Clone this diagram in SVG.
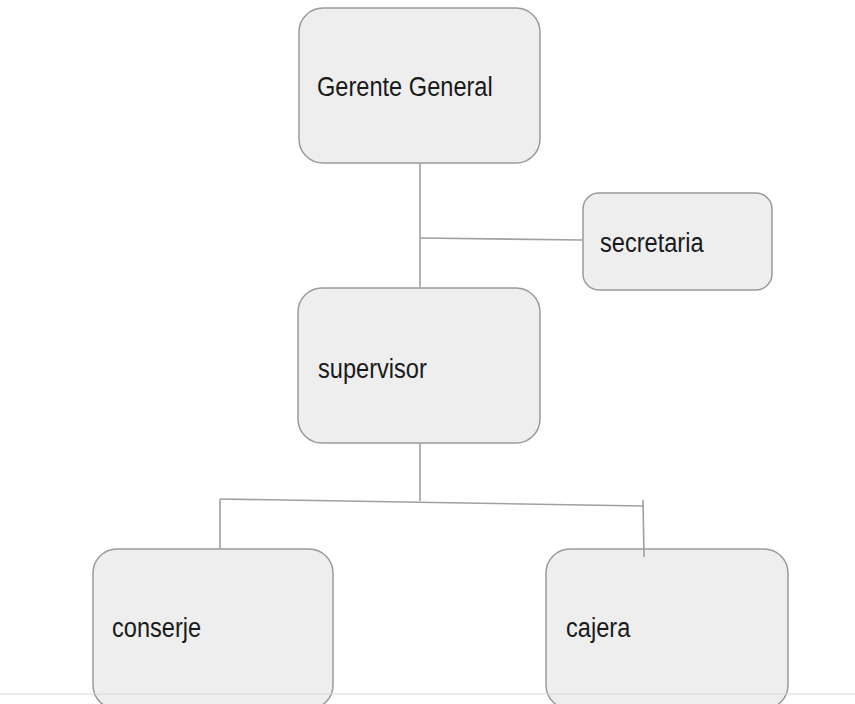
<svg xmlns="http://www.w3.org/2000/svg" width="855" height="704" viewBox="0 0 855 704">
<style>
.box{fill:#eeeeee;stroke:#9a9a9a;stroke-width:1.5}
.lbl{font-family:"Liberation Sans",Arial,sans-serif;font-size:23.6px;fill:#1a1a1a}
.ln{stroke:#a0a0a0;stroke-width:1.6;fill:none}
</style>
<rect x="0" y="0" width="855" height="704" fill="#ffffff"/>
<g id="gerente">
<rect class="box" x="299" y="8" width="241" height="155" rx="24"/>
<text class="lbl" x="317" y="96" transform="translate(0,-14) scale(1,1.15)">Gerente General</text>
</g>
<g id="secretaria">
<rect class="box" x="583" y="193" width="189" height="97" rx="16"/>
<text class="lbl" x="600" y="252" transform="translate(0,-37.8) scale(1,1.15)">secretaria</text>
</g>
<g id="supervisor">
<rect class="box" x="298" y="288" width="242" height="155" rx="24"/>
<text class="lbl" x="318" y="378" transform="translate(0,-56.7) scale(1,1.15)">supervisor</text>
</g>
<g id="conserje">
<rect class="box" x="93" y="549" width="240" height="160" rx="24"/>
<text class="lbl" x="112" y="637" transform="translate(0,-95.55) scale(1,1.15)">conserje</text>
</g>
<g id="cajera">
<rect class="box" x="546" y="549" width="242" height="160" rx="24"/>
<text class="lbl" x="566" y="637" transform="translate(0,-95.55) scale(1,1.15)">cajera</text>
</g>
<line x1="0" y1="694" x2="855" y2="694" stroke="#d8d8d8" stroke-width="1"/>
<g id="connectors">
<path class="ln" d="M420,163 L420,288"/>
<path class="ln" d="M420,238 L583,240"/>
<path class="ln" d="M420,443 L420,501"/>
<path class="ln" d="M220,499 L643,506"/>
<path class="ln" d="M220,499 L220,549"/>
<path class="ln" d="M643,500 L644,557"/>
</g>
</svg>
